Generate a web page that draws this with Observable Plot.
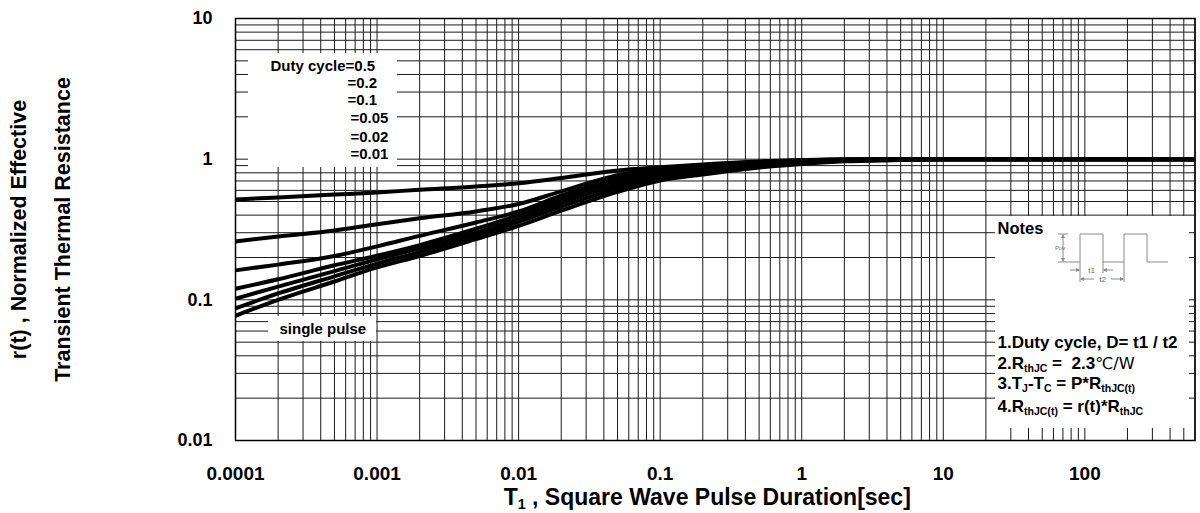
<!DOCTYPE html>
<html><head><meta charset="utf-8">
<script src="https://cdn.jsdelivr.net/npm/d3@7"></script>
<script src="https://cdn.jsdelivr.net/npm/@observablehq/plot@0.6"></script>
<style>
html,body{margin:0;padding:0;background:#fff;}
#chart{width:1200px;height:513px;overflow:hidden;}
svg{display:block}
</style></head><body><div id="chart"></div>
<script>
// ---- data ----
const pulseDuration = [1e-4, 2e-4, 5e-4, 1e-3, 2e-3, 5e-3, 1e-2, 2e-2, 5e-2, 0.1, 0.2, 0.5, 1, 2, 5, 10, 100, 600];
const seriesNames = ["D=0.5", "D=0.2", "D=0.1", "D=0.05", "D=0.02", "D=0.01", "single pulse"];
const rD05    = [0.517, 0.534, 0.56, 0.58, 0.606, 0.64, 0.675, 0.735, 0.83, 0.875, 0.917, 0.963, 0.987, 1.0, 1.0, 1.0, 1.0, 1.0];
const rD02    = [0.26, 0.282, 0.311, 0.345, 0.38, 0.425, 0.48, 0.59, 0.77, 0.855, 0.905, 0.955, 0.979, 0.995, 1.0, 1.0, 1.0, 1.0];
const rD01    = [0.162, 0.178, 0.205, 0.24, 0.285, 0.355, 0.425, 0.55, 0.73, 0.82, 0.88, 0.94, 0.971, 0.99, 1.0, 1.0, 1.0, 1.0];
const rD005   = [0.12, 0.14, 0.176, 0.206, 0.245, 0.32, 0.40, 0.52, 0.694, 0.79, 0.86, 0.924, 0.963, 0.985, 0.995, 1.0, 1.0, 1.0];
const rD002   = [0.102, 0.124, 0.16, 0.194, 0.232, 0.30, 0.376, 0.49, 0.655, 0.766, 0.83, 0.91, 0.955, 0.98, 0.995, 1.0, 1.0, 1.0];
const rD001   = [0.087, 0.111, 0.147, 0.181, 0.218, 0.285, 0.358, 0.46, 0.62, 0.735, 0.804, 0.895, 0.94, 0.975, 0.99, 1.0, 1.0, 1.0];
const rSingle = [0.077, 0.10, 0.135, 0.17, 0.205, 0.27, 0.335, 0.43, 0.585, 0.706, 0.778, 0.873, 0.924, 0.965, 0.985, 1.0, 1.0, 1.0];

const xTickValues = [1e-4, 1e-3, 1e-2, 0.1, 1, 10, 100];
const xTickLabels = ["0.0001", "0.001", "0.01", "0.1", "1", "10", "100"];
const yTickValues = [0.01, 0.1, 1, 10];
const yTickLabels = ["0.01", "0.1", "1", "10"];

const legendLines = ["Duty cycle=0.5", "=0.2", "=0.1", "=0.05", "=0.02", "=0.01"];
const singlePulseLabel = "single pulse";
const notesTitle = "Notes";
const notesLines = [
  "1.Duty cycle, D= t1 / t2",
  "2.R_{thJC} =  2.3{℃/W}",
  "3.T_{J}-T_{C} = P*R_{thJC(t)}",
  "4.R_{thJC(t)} = r(t)*R_{thJC}"
];
const xTitle = "T_{1} , Square Wave Pulse Duration[sec]";
const yTitle1 = "r(t) , Normalized Effective";
const yTitle2 = "Transient Thermal Resistance";

// ---- build table ----
const seriesValues = [rD05, rD02, rD01, rD005, rD002, rD001, rSingle];
const rows = [];
seriesNames.forEach((name, s) => {
  pulseDuration.forEach((t, i) => rows.push({series: name, t, r: seriesValues[s][i]}));
});

// grid lines (log decades)
const xGrid = [];
for (let e = -4; e <= 2; e++) for (let m = 1; m <= 9; m++) { const v = +(m * Math.pow(10, e)).toPrecision(3); if (v <= 600) xGrid.push(v); }
const yGrid = [];
for (let e = -2; e <= 0; e++) for (let m = 1; m <= 9; m++) yGrid.push(+(m * Math.pow(10, e)).toPrecision(3));
yGrid.push(10);

const FONT = "'Liberation Sans', Arial, Helvetica, sans-serif";

// decorative layer: white boxes + pulse sketch
function decor(...args) {
  const dims = args.find(a => a && a.marginLeft !== undefined) || {marginLeft: 235, marginTop: 18};
  const L = dims.marginLeft, T = dims.marginTop;
  const g = d3.create("svg:g");
  const boxes = [[13, 35, 149, 114], [33, 298, 108, 25], [760, 198, 194, 212]];
  for (const [x, y, w, h] of boxes) g.append("rect").attr("x", L + x).attr("y", T + y).attr("width", w).attr("height", h).attr("fill", "white");
  const ox = L + 823, oy = T + 244;
  const w = g.append("g").attr("transform", `translate(${ox},${oy})`).attr("fill", "none").attr("stroke", "#8a8a8a").attr("stroke-width", 1);
  w.append("path").attr("d", "M0,0H22V-28H45V0H66V-28H89V0H110");
  w.append("path").attr("d", "M0,-28H10M5,-26V-2M22,0V20M45,0V11M66,0V20");
  w.append("path").attr("d", "M12,8H21M46,8H55M23,17H36M53,17H65");
  const ah = w.append("g").attr("fill", "#8a8a8a").attr("stroke", "none");
  ah.append("path").attr("d", "M5,-28L3,-24H7Z M5,0L3,-4H7Z");
  ah.append("path").attr("d", "M22,8L18,6V10Z M45,8L49,6V10Z M22,17L26,15V19Z M66,17L62,15V19Z");
  const tx = w.append("g").attr("fill", "#666").attr("stroke", "none").attr("font-family", FONT);
  tx.append("text").attr("x", 2).attr("y", -12).attr("font-size", 6).text("P").append("tspan").attr("font-size", 4).text("DM");
  tx.append("text").attr("x", 33.5).attr("y", 10.5).attr("font-size", 8).attr("text-anchor", "middle").text("t1");
  tx.append("text").attr("x", 44.5).attr("y", 19.5).attr("font-size", 8).attr("text-anchor", "middle").text("t2");
  return g.node();
}

const textCommon = {fontFamily: FONT, fontWeight: "bold", fill: "black", lineAnchor: "bottom", textAnchor: "start", frameAnchor: "top-left"};
const legendPos = [[35, 52.7, 15], [112, 69.8, 15], [112, 86.8, 15], [115, 104.8, 15], [115, 123, 15], [115, 140.5, 15]];

const marks = [
  Plot.ruleX(xGrid, {stroke: "#1a1a1a", strokeWidth: 1}),
  Plot.ruleY(yGrid, {stroke: "#1a1a1a", strokeWidth: 1}),
  decor,
  Plot.line(rows, {x: "t", y: "r", z: "series", stroke: "black", strokeWidth: 4, curve: "monotone-x", clip: true, strokeLinejoin: "round"}),
  Plot.frame({stroke: "black", strokeWidth: 1.5}),
  Plot.axisX({ticks: xTickValues, tickFormat: d => xTickLabels[xTickValues.indexOf(d)], tickSize: 0, tickPadding: 25.5, fontSize: 19, fontWeight: "bold", fontFamily: FONT, label: null}),
  Plot.axisY({ticks: yTickValues, tickFormat: d => yTickLabels[yTickValues.indexOf(d)], tickSize: 0, tickPadding: 23, fontSize: 18, fontWeight: "bold", fontFamily: FONT, label: null}),
  ...legendLines.map((s, i) => Plot.text([s], {...textCommon, text: d => d, dx: legendPos[i][0], dy: legendPos[i][1], fontSize: legendPos[i][2]})),
  Plot.text([singlePulseLabel], {...textCommon, text: d => d, dx: 44, dy: 315, fontSize: 15}),
  Plot.text([notesTitle], {...textCommon, text: d => d, dx: 762, dy: 215, fontSize: 16.5}),
  ...notesLines.map((s, i) => Plot.text([s], {...textCommon, text: d => d, dx: 762, dy: [329.7, 350.3, 370.3, 393.7][i], fontSize: 17})),
  Plot.text([xTitle], {fontFamily: FONT, fontWeight: "bold", fontSize: 23, frameAnchor: "bottom", lineAnchor: "bottom", textAnchor: "middle", text: d => d, dx: -8, dy: 64}),
  Plot.text([yTitle1], {fontFamily: FONT, fontWeight: "bold", fontSize: 21.5, frameAnchor: "left", textAnchor: "middle", lineAnchor: "middle", rotate: -90, text: d => d, dx: -216}),
  Plot.text([yTitle2], {fontFamily: FONT, fontWeight: "bold", fontSize: 21.5, frameAnchor: "left", textAnchor: "middle", lineAnchor: "middle", rotate: -90, text: d => d, dx: -172})
];

const chart = Plot.plot({
  width: 1200, height: 513,
  marginLeft: 235, marginRight: 5.5, marginTop: 18, marginBottom: 73,
  x: {type: "log", domain: [1e-4, 600]},
  y: {type: "log", domain: [0.01, 10]},
  style: {background: "white", fontFamily: FONT, color: "black", overflow: "visible"},
  marks
});
document.getElementById("chart").appendChild(chart);

// rich text: _{..} subscripts, {..} light glyph run
d3.select(chart).selectAll("text").each(function () {
  const s = this.textContent;
  if (!/[_{]/.test(s) || this.querySelector("tspan")) return;
  const sel = d3.select(this);
  sel.text(null);
  const parts = s.split(/(_\{[^}]*\}|\{[^}]*\})/).filter(p => p.length);
  let shifted = false;
  for (const p of parts) {
    if (p.startsWith("_{")) {
      sel.append("tspan").attr("font-size", "0.62em").attr("dy", shifted ? null : "0.3em").text(p.slice(2, -1));
      shifted = true;
    } else {
      const t = sel.append("tspan");
      if (shifted) { t.attr("dy", "-0.186em"); shifted = false; }
      if (p.startsWith("{")) t.attr("font-weight", "normal").attr("font-family", "'DejaVu Sans', sans-serif").attr("font-size", "0.95em").text(p.slice(1, -1));
      else t.text(p);
    }
  }
});
</script></body></html>
